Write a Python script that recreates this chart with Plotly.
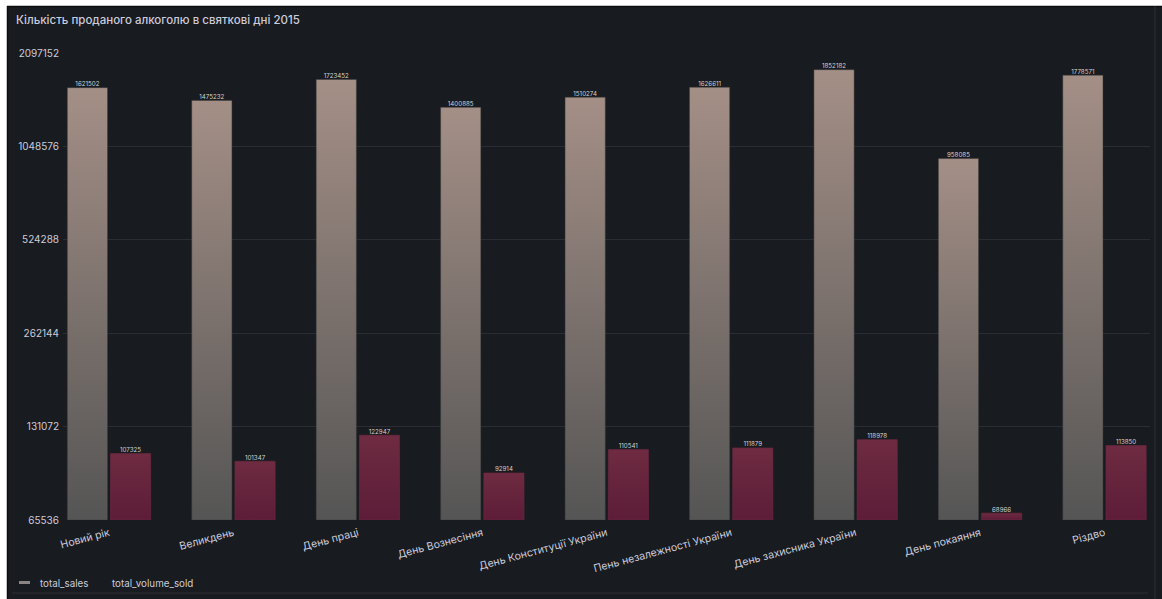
import math
import plotly.graph_objects as go

categories = ["Новий рік", "Великдень", "День праці", "День Вознесіння",
              "День Конституції України", "Пень незалежності України",
              "День захисника України", "День покаяння", "Різдво"]
total_sales = [1621502, 1475232, 1723452, 1400885, 1510274, 1626611, 1852182, 958085, 1778571]
total_volume_sold = [107325, 101347, 122947, 92914, 110541, 111879, 118978, 68966, 113850]
y_ticks = [65536, 131072, 262144, 524288, 1048576, 2097152]

W, H = 1162, 599
L, R, T, B = 63, 1150, 53, 520
BASE = y_ticks[0]


def px_x(p):
    return (p - L) / (R - L)


def px_y(p):
    return (B - p) / (B - T)


fig = go.Figure()

GRAY = [[0, "#555555"], [1, "#a48f86"]]
RED = [[0, "#5d1d38"], [1, "#6e2b41"]]


def add_bar(xc, val, cs, left, edge):
    if left:
        x0, x1 = xc - 0.335, xc - 0.012
    else:
        x0, x1 = xc + 0.012, xc + 0.335
    fig.add_trace(go.Scatter(
        x=[x0, x1, x1, x0, x0], y=[BASE, BASE, val, val, BASE],
        mode="lines", line=dict(width=0.8, color=edge), fill="toself",
        fillgradient=dict(type="vertical", colorscale=cs),
        showlegend=False, hoverinfo="skip"))
    return (x0 + x1) / 2


lx_s, lx_v = [], []
for i, (s, v) in enumerate(zip(total_sales, total_volume_sold)):
    lx_s.append(add_bar(i, s, GRAY, True, "rgba(60,60,60,0.6)"))
    lx_v.append(add_bar(i, v, RED, False, "rgba(110,40,65,0.8)"))

lab_font = dict(size=6.2, color="#d2d2d2", family="Inter")
fig.add_trace(go.Scatter(x=lx_s, y=total_sales, mode="text", text=[str(s) for s in total_sales],
                         textposition="top center", textfont=lab_font,
                         showlegend=False, hoverinfo="skip"))
fig.add_trace(go.Scatter(x=lx_v, y=total_volume_sold, mode="text", text=[str(v) for v in total_volume_sold],
                         textposition="top center", textfont=lab_font,
                         showlegend=False, hoverinfo="skip"))

# legend entries (symbols hidden; the grafana-style dash is drawn as a shape)
fig.add_trace(go.Scatter(x=[None], y=[None], mode="markers", name="total_sales", legend="legend",
                         marker=dict(size=1, color="rgba(0,0,0,0)")))
fig.add_trace(go.Scatter(x=[None], y=[None], mode="markers", name="total_volume_sold", legend="legend2",
                         marker=dict(size=1, color="rgba(0,0,0,0)")))

shapes = [
    dict(type="rect", xref="paper", yref="paper", x0=px_x(0), x1=px_x(7), y0=px_y(0), y1=px_y(H),
         fillcolor="white", line=dict(width=0), layer="below"),
    dict(type="rect", xref="paper", yref="paper", x0=px_x(0), x1=px_x(W), y0=px_y(0), y1=px_y(6),
         fillcolor="white", line=dict(width=0), layer="below"),
    dict(type="line", xref="paper", yref="paper", x0=px_x(7.5), x1=px_x(7.5), y0=px_y(6), y1=px_y(H),
         line=dict(width=1.5, color="#0c0d0f"), layer="below"),
    dict(type="line", xref="paper", yref="paper", x0=px_x(7), x1=px_x(W), y0=px_y(6.5), y1=px_y(6.5),
         line=dict(width=1.5, color="#0c0d0f"), layer="below"),
    dict(type="line", xref="paper", yref="paper", x0=px_x(1155), x1=px_x(1155), y0=px_y(6), y1=px_y(H),
         line=dict(width=1, color="#2e3136"), layer="below"),
    dict(type="line", xref="paper", yref="paper", x0=px_x(12), x1=px_x(1148), y0=px_y(593), y1=px_y(593),
         line=dict(width=1.5, color="#26292e"), layer="below"),
    # legend dash for total_sales
    dict(type="line", xref="paper", yref="paper", x0=px_x(19), x1=px_x(30), y0=px_y(582.5), y1=px_y(582.5),
         line=dict(width=3, color="#8a8584"), layer="above"),
]

leg_common = dict(orientation="h", xref="container", yref="container", xanchor="left", yanchor="top",
                  font=dict(size=9.8, color="#ccccdc"), bgcolor="rgba(0,0,0,0)", itemwidth=30)

fig.update_layout(
    width=W, height=H,
    margin=dict(l=L, r=W - R, t=T, b=H - B, autoexpand=False),
    paper_bgcolor="#181b1f", plot_bgcolor="rgba(0,0,0,0)",
    font=dict(family="Inter", color="#ccccdc"),
    shapes=shapes,
    showlegend=True,
    legend=dict(x=-14 / W, y=1 - 569 / H, **leg_common),
    legend2=dict(x=72 / W, y=1 - 569 / H, **leg_common),
    annotations=[dict(text="Кількість проданого алкоголю в святкові дні 2015", xref="paper", yref="paper",
                      x=px_x(14), y=px_y(20), xanchor="left", yanchor="middle", showarrow=False,
                      font=dict(size=11.5, color="#ccccdc", family="Inter", weight=500))],
)
fig.update_xaxes(range=[-(109 - L) / 124.4, 8 + (R - 1104.5) / 124.4], tickvals=list(range(len(categories))),
                 ticktext=categories, tickangle=-15, showgrid=False, zeroline=False, showline=False,
                 tickfont=dict(size=10.6, color="#ccccdc"), ticks="", ticklabelstandoff=4, automargin=False)
fig.update_yaxes(type="log", range=[math.log10(y_ticks[0]), math.log10(y_ticks[-1])],
                 tickvals=y_ticks, ticktext=[str(t) for t in y_ticks],
                 showgrid=True, gridcolor="#2a2d33", gridwidth=1, zeroline=False, showline=False,
                 tickfont=dict(size=10, color="#ccccdc"), ticks="", ticklabelstandoff=3, automargin=False)

css = ("document.documentElement.style.margin='0';document.documentElement.style.overflow='hidden';"
       "document.documentElement.style.background='#181b1f';"
       "document.body.style.margin='0';document.body.style.overflow='hidden';"
       "document.body.style.background='#181b1f';")
fig.write_html("out.html", post_script=css, config={"displayModeBar": False})
